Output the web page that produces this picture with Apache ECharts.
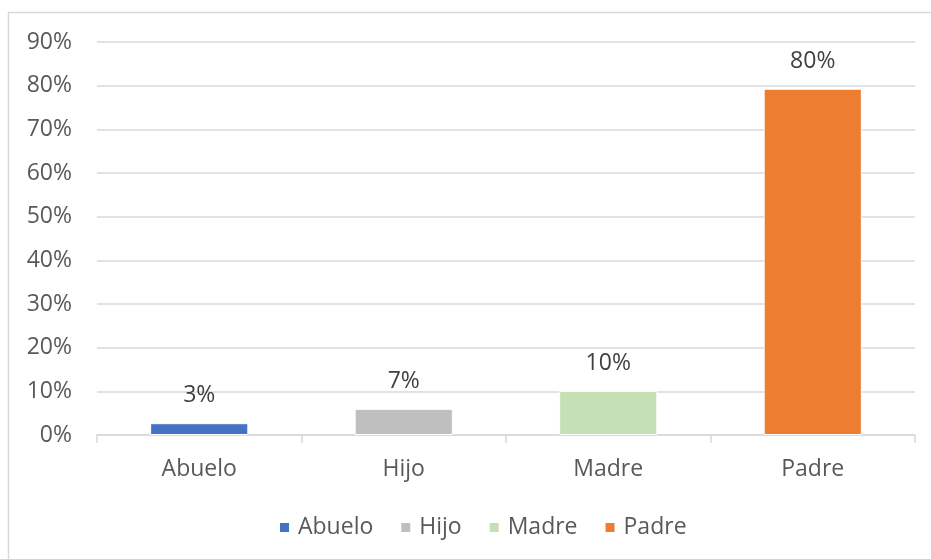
<!DOCTYPE html>
<html>
<head>
<meta charset="utf-8">
<script src="https://cdn.jsdelivr.net/npm/echarts@6/dist/echarts.min.js"></script>
<style>
  html, body { margin: 0; padding: 0; background: #fff; }
  #chart { width: 931px; height: 559px; }
</style>
</head>
<body>
<div id="chart"></div>
<script>
const categorias = ['Abuelo', 'Hijo', 'Madre', 'Padre'];
const valores = [0.027, 0.060, 0.101, 0.793];
const etiquetas = ['3%', '7%', '10%', '80%'];
const colores = ['#4472c4', '#bfbfbf', '#c5e0b4', '#ed7d31'];
const ticksY = [0, 0.1, 0.2, 0.3, 0.4, 0.5, 0.6, 0.7, 0.8, 0.9];

const fuente = '"Open Sans", "Noto Sans", sans-serif';
const gris = '#595959';

const chart = echarts.init(document.getElementById('chart'));

// una serie por categoria, apiladas, para que cada barra quede centrada
const series = categorias.map((nombre, i) => ({
  name: nombre,
  type: 'bar',
  stack: 'total',
  barWidth: '48%',
  data: categorias.map((c, j) => (j === i ? valores[i] : '-')),
  itemStyle: { color: colores[i], borderColor: '#fff', borderWidth: 1 },
  label: {
    show: true,
    position: 'top',
    distance: 16,
    formatter: () => etiquetas[i],
    color: '#404040',
    fontSize: 23,
    fontFamily: fuente
  }
}));

const option = {
  animation: false,
  graphic: [
    {
      type: 'rect',
      shape: { x: 8.5, y: 12.5, width: 960, height: 600 },
      style: { fill: 'none', stroke: '#d9d9d9', lineWidth: 1.5 },
      silent: true
    }
  ],
  grid: { left: 97, right: 16, top: 42, bottom: 124 },
  legend: {
    top: 511,
    left: 273,
    icon: 'rect',
    itemWidth: 11,
    itemHeight: 11,
    itemGap: 26,
    data: categorias,
    textStyle: { color: gris, fontSize: 23, fontFamily: fuente, padding: [0, 0, 0, 3] }
  },
  xAxis: {
    type: 'category',
    data: categorias,
    axisLine: { lineStyle: { color: '#d9d9d9', width: 1.5 } },
    axisTick: { show: true, length: 8, lineStyle: { color: '#d9d9d9', width: 1.5 } },
    axisLabel: { color: gris, fontSize: 23, fontFamily: fuente, margin: 23 }
  },
  yAxis: {
    type: 'value',
    min: 0,
    max: ticksY[ticksY.length - 1],
    interval: 0.1,
    axisLine: { show: false },
    axisTick: { show: false },
    splitLine: { lineStyle: { color: '#d9d9d9', width: 1.5 } },
    axisLabel: {
      color: gris,
      fontSize: 23,
      fontFamily: fuente,
      margin: 25,
      formatter: v => Math.round(v * 100) + '%'
    }
  },
  series: series
};

chart.setOption(option);
</script>
</body>
</html>
